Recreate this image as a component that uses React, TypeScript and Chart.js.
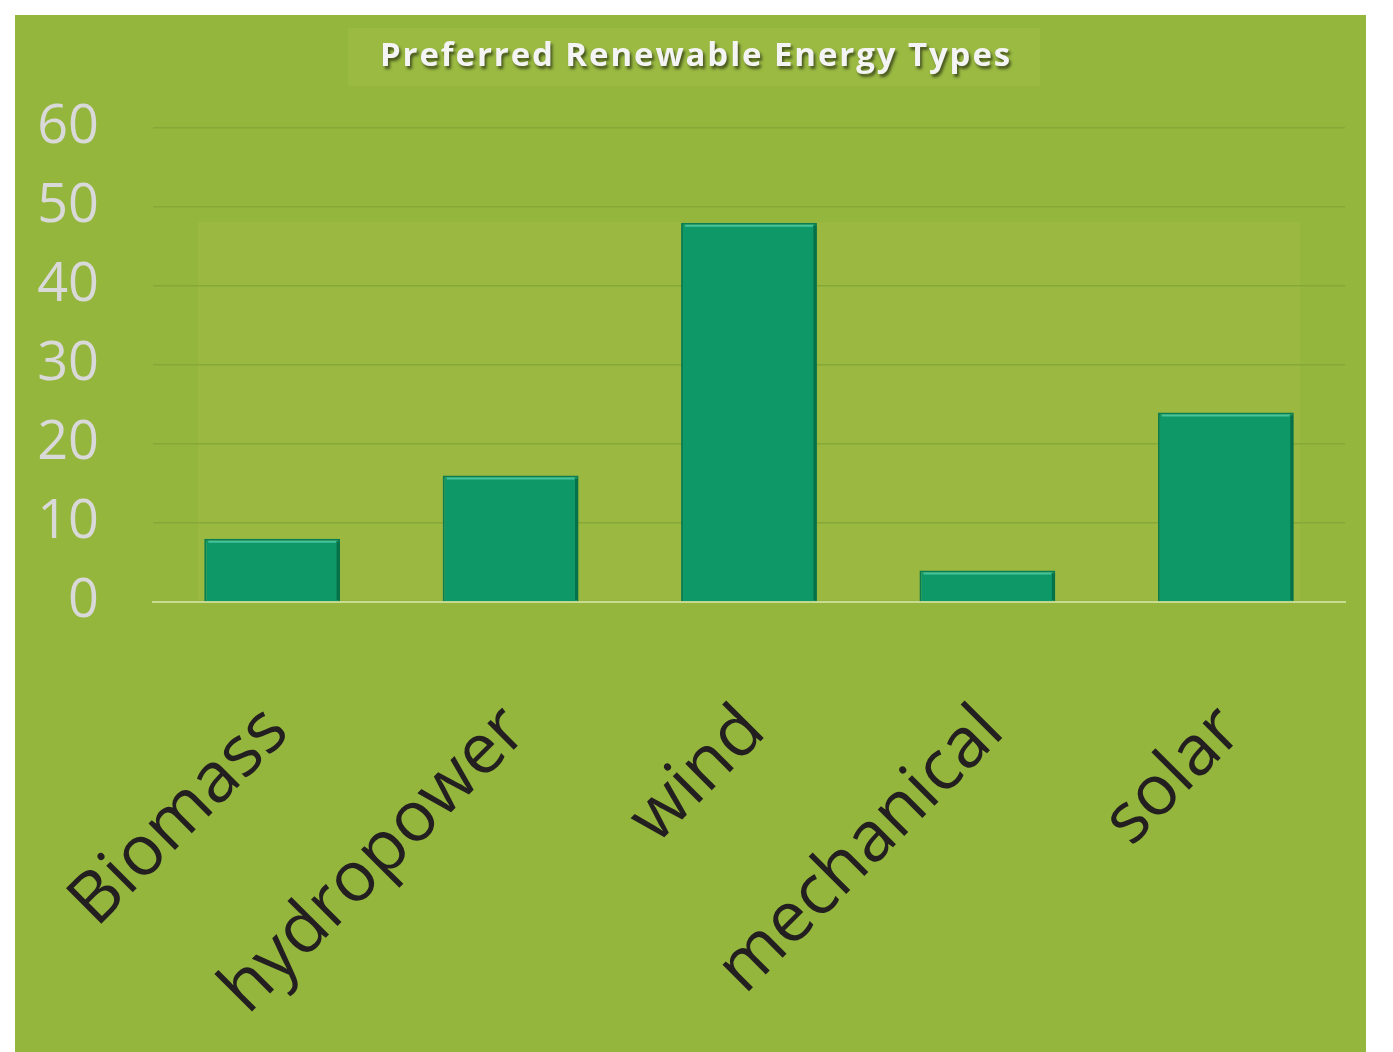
import React, { useEffect, useRef } from "react";
import { Chart, registerables } from "chart.js";

Chart.register(...registerables);

const categories = ["Biomass", "hydropower", "wind", "mechanical", "solar"];
const values = [8, 16, 48, 4, 24];
const yTicks = [0, 10, 20, 30, 40, 50, 60];
const chartTitle = "Preferred Renewable Energy Types";

const decorPlugin = {
  id: "decor",
  beforeDraw(chart: any) {
    const ctx = chart.ctx;
    const a = chart.chartArea;
    ctx.save();
    // lighter inner plot panel
    ctx.fillStyle = "#9bb941";
    ctx.fillRect(a.left + 45, a.top + 94, a.right - a.left - 90, a.bottom - a.top - 96);
    // title box
    ctx.fillStyle = "#9aba42";
    ctx.fillRect(333, 13, 692, 58);
    ctx.restore();
  },
  afterDatasetsDraw(chart: any) {
    const ctx = chart.ctx;
    const meta = chart.getDatasetMeta(0);
    ctx.save();
    meta.data.forEach((bar: any) => {
      const { x, y, width, base } = bar.getProps(["x", "y", "width", "base"], true);
      const l = x - width / 2;
      const r = x + width / 2;
      ctx.strokeStyle = "#46c29c";
      ctx.lineWidth = 2;
      ctx.beginPath();
      ctx.moveTo(l + 4, y + 3);
      ctx.lineTo(r - 4, y + 3);
      ctx.stroke();
      ctx.strokeStyle = "#087049";
      ctx.lineWidth = 3;
      ctx.beginPath();
      ctx.moveTo(r - 2, y + 3);
      ctx.lineTo(r - 2, base - 1);
      ctx.stroke();
    });
    ctx.restore();
  },
  afterDraw(chart: any) {
    const ctx = chart.ctx;
    ctx.save();
    ctx.font = "bold 33px 'Open Sans'";
    (ctx as any).letterSpacing = "1.9px";
    ctx.textAlign = "center";
    ctx.textBaseline = "middle";
    ctx.shadowColor = "rgba(0,0,0,0.55)";
    ctx.shadowOffsetX = 2;
    ctx.shadowOffsetY = 3;
    ctx.shadowBlur = 3;
    ctx.fillStyle = "#f4f4f4";
    ctx.fillText(chartTitle, 681, 42);
    ctx.restore();
  },
};

export default function App() {
  const ref = useRef<HTMLCanvasElement>(null);
  useEffect(() => {
    if (!ref.current) return;
    const chart = new Chart(ref.current, {
      type: "bar",
      data: {
        labels: categories,
        datasets: [
          {
            data: values,
            backgroundColor: "#0e9867",
            borderColor: "#0a7d53",
            borderWidth: 2,
            categoryPercentage: 1,
            barPercentage: 0.57,
          },
        ],
      },
      plugins: [decorPlugin],
      options: {
        animation: false,
        responsive: true,
        maintainAspectRatio: false,
        layout: { padding: { top: 113, left: 0, right: 21, bottom: 0 } },
        plugins: {
          legend: { display: false },
          title: { display: false },
          tooltip: { enabled: false },
        },
        scales: {
          x: {
            grid: { display: false, drawTicks: false },
            border: { display: true, color: "#c9da92", width: 2 },
            ticks: {
              autoSkip: false,
              minRotation: 45,
              maxRotation: 45,
              padding: 88,
              labelOffset: 5,
              color: "#231f20",
              font: { family: "'Open Sans'", size: 70 },
            },
            afterFit(scale: any) {
              scale.height = 450;
              scale.paddingLeft = 0;
              scale.paddingRight = 0;
            },
          },
          y: {
            min: 0,
            max: 60,
            grid: {
              drawTicks: false,
              color: (c: any) => (c.tick && c.tick.value === 0 ? "#c9da92" : "#86a839"),
              lineWidth: 1.5,
            },
            border: { display: false },
            ticks: {
              padding: 54,
              color: "#d9d9d9",
              font: { family: "'Open Sans'", size: 54 },
            },
            afterBuildTicks(scale: any) {
              scale.ticks = yTicks.map((v) => ({ value: v }));
            },
            afterFit(scale: any) {
              scale.width = 138;
            },
          },
        },
      },
    });
    return () => chart.destroy();
  }, []);

  return (
    <div style={{ position: "absolute", left: 0, top: 0, width: 1393, height: 1052, background: "#ffffff", overflow: "hidden" }}>
      <div style={{ position: "absolute", left: 15, top: 15, width: 1351, height: 1037, background: "#95b63d" }}>
        <canvas ref={ref} />
      </div>
    </div>
  );
}
